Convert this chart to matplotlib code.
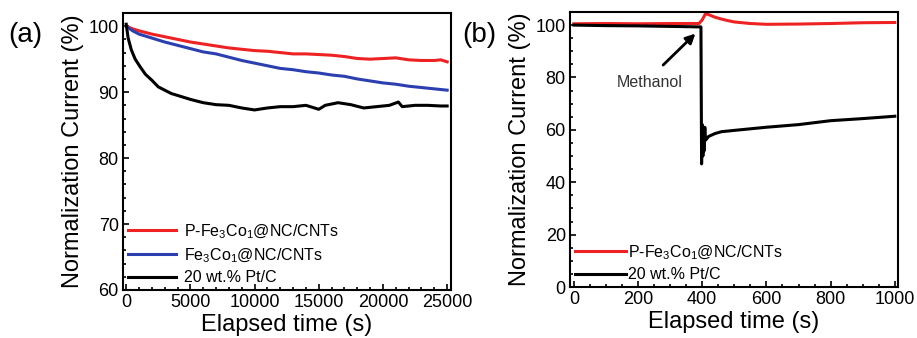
import matplotlib.pyplot as plt

plt.rcParams['font.family'] = ['Liberation Sans', 'DejaVu Sans']
plt.rcParams['mathtext.fontset'] = 'custom'
plt.rcParams['mathtext.rm'] = 'Liberation Sans'

# ---- panel (a): long-term stability ----
t_a = [0, 500, 1000, 2000, 3000, 4000, 5000, 6000, 7000, 8000, 9000, 10000,
       11000, 12000, 13000, 14000, 15000, 16000, 17000, 18000, 19000, 20000,
       21000, 22000, 23000, 24000, 24500, 25000]
red_a = [100, 99.6, 99.3, 98.8, 98.4, 98.0, 97.6, 97.3, 97.0, 96.7, 96.5, 96.3,
         96.2, 96.0, 95.8, 95.8, 95.7, 95.6, 95.4, 95.1, 95.0, 95.1,
         95.2, 94.9, 94.8, 94.8, 94.9, 94.6]
blue_a = [100, 99.3, 98.8, 98.2, 97.6, 97.1, 96.6, 96.1, 95.8, 95.3, 94.8, 94.4,
          94.0, 93.6, 93.4, 93.1, 92.9, 92.6, 92.4, 92.0, 91.7, 91.4,
          91.2, 90.9, 90.7, 90.5, 90.4, 90.3]
t_a_pt = [0, 150, 400, 700, 1100, 1500, 2000, 2500, 3000, 3500, 4000, 5000,
          6000, 7000, 8000, 9000, 10000, 11000, 12000, 13000, 14000, 15000,
          15500, 16500, 17500, 18500, 19500, 20500, 21200, 21500, 22500,
          23500, 24500, 25000]
black_a = [100.3, 98.2, 96.4, 95.0, 93.8, 92.7, 91.8, 90.8, 90.3, 89.8, 89.5, 88.9,
           88.4, 88.1, 88.0, 87.6, 87.3, 87.6, 87.8, 87.8, 88.0, 87.4,
           88.0, 88.4, 88.1, 87.6, 87.8, 88.0, 88.5, 87.8, 88.0,
           88.0, 87.9, 87.9]

# ---- panel (b): methanol tolerance ----
t_b_red = [0, 100, 200, 300, 390, 400, 410, 420, 440, 460, 480, 500, 550,
           600, 700, 800, 900, 1000]
red_b = [100.5, 100.6, 100.5, 100.6, 100.6, 102.0, 104.3, 104.0, 103.0, 102.3,
         101.7, 101.2, 100.6, 100.3, 100.4, 100.6, 100.9, 101.0]
t_b_pt = [0, 100, 200, 300, 396, 398, 400, 402, 404, 406, 408, 410, 420, 440,
          460, 500, 600, 700, 800, 900, 1000]
black_b = [100, 99.8, 99.7, 99.5, 99.3, 47, 62, 50, 60, 52, 61, 56, 57.5, 58.6,
           59.3, 59.8, 61.0, 62.0, 63.5, 64.3, 65.2]

lab_p = r'P-Fe$_3$Co$_1$@NC/CNTs'
lab_f = r'Fe$_3$Co$_1$@NC/CNTs'
lab_pt = '20 wt.% Pt/C'

fig = plt.figure(figsize=(9.17, 3.38), dpi=100)
ax1 = fig.add_axes([123 / 917, 48 / 338, 328 / 917, 277 / 338])
ax2 = fig.add_axes([570 / 917, 51 / 338, 328 / 917, 275 / 338])

ax1.plot(t_a, red_a, color='#ee2222', lw=2.2, label=lab_p)
ax1.plot(t_a, blue_a, color='#2b3fb0', lw=2.2, label=lab_f)
ax1.plot(t_a_pt, black_a, color='black', lw=2.2, label=lab_pt)
ax1.set_xlim(-250, 25300)
ax1.set_ylim(60, 102)
ax1.set_xticks([0, 5000, 10000, 15000, 20000, 25000])
ax1.set_yticks([60, 70, 80, 90, 100])

ax2.plot(t_b_red, red_b, color='#ee2222', lw=2.2, label=lab_p)
ax2.plot(t_b_pt, black_b, color='black', lw=2.2, label=lab_pt)
ax2.set_xlim(-12, 1010)
ax2.set_ylim(0, 105)
ax2.set_xticks([0, 200, 400, 600, 800, 1000])
ax2.set_yticks([0, 20, 40, 60, 80, 100])
ax2.annotate('', xy=(385, 97.5), xytext=(272, 84),
             arrowprops=dict(arrowstyle='-|>', color='black', lw=2,
                             mutation_scale=14))
ax2.text(134, 78, 'Methanol', fontsize=11.5, color='#333333', va='center')

for ax in (ax1, ax2):
    ax.minorticks_on()
    ax.tick_params(which='both', direction='in', top=False, right=False,
                   width=1.2, labelsize=13, pad=3)
    ax.tick_params(which='major', length=4)
    ax.tick_params(which='minor', length=2)
    for s in ax.spines.values():
        s.set_linewidth(1.5)
    ax.set_xlabel('Elapsed time (s)', fontsize=17, labelpad=2)
    ax.set_ylabel('Normalization Current (%)', fontsize=17, labelpad=3)

ax1.legend(loc='lower left', frameon=False, fontsize=11.5, handlelength=3.0,
           handletextpad=0.5, labelspacing=0.35, borderaxespad=0.1,
           borderpad=0.2)
ax2.legend(loc='lower left', frameon=False, fontsize=11.5, handlelength=3.2,
           handletextpad=0.1, labelspacing=0.35, borderaxespad=0.1,
           borderpad=0.2)

fig.text(8 / 917, 1 - 42 / 338, '(a)', fontsize=20)
fig.text(462 / 917, 1 - 42 / 338, '(b)', fontsize=20)

fig.savefig('out.png', dpi=100)
